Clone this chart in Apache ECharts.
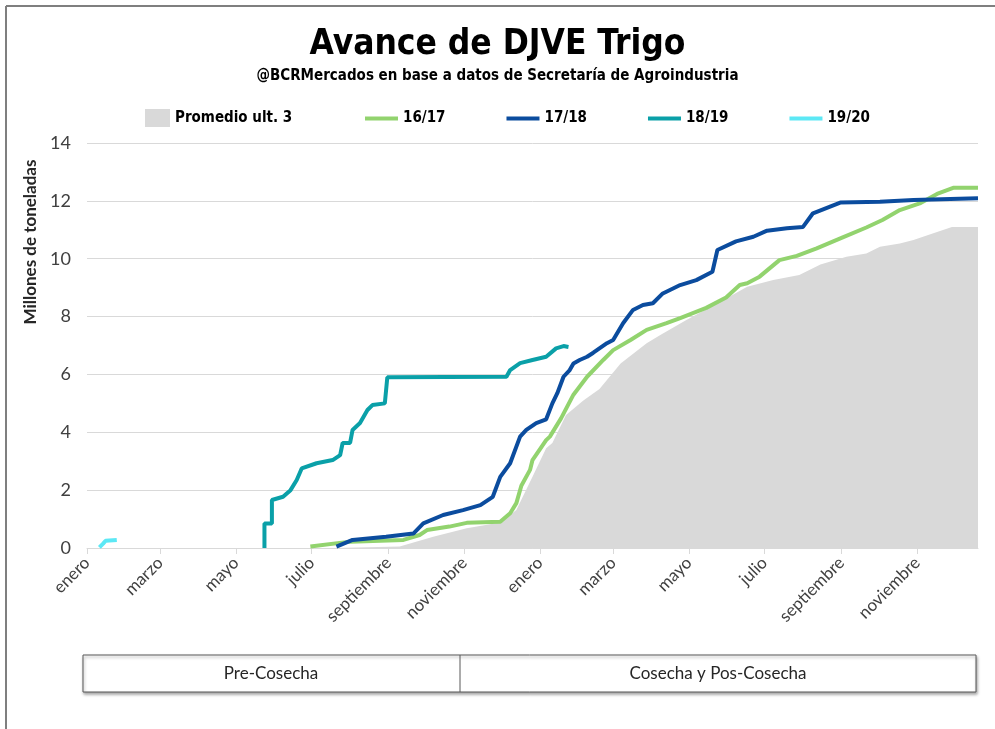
<!DOCTYPE html>
<html>
<head>
<meta charset="utf-8">
<script src="https://cdn.jsdelivr.net/npm/echarts@6/dist/echarts.min.js"></script>
<style>
  html, body { margin: 0; padding: 0; background: #fff; }
  #chart { width: 995px; height: 729px; }
</style>
</head>
<body>
<div id="chart"></div>
<script>
// eje x: dias desde el 1 de enero del primer año
const monthDays = [0, 59, 120, 181, 243, 304, 365, 424, 485, 546, 608, 669];
const monthNames = ["enero", "marzo", "mayo", "julio", "septiembre", "noviembre",
  "enero", "marzo", "mayo", "julio", "septiembre", "noviembre"];

const promDays = [200, 252, 279, 306, 333, 346, 359, 370, 375, 386, 400, 413, 430, 451, 462, 483, 510, 532, 553, 574, 591, 612, 628, 639, 655, 666, 682, 697, 718];
const promVals = [0, 0.05, 0.39, 0.68, 0.88, 1.31, 2.46, 3.45, 3.63, 4.6, 5.1, 5.5, 6.38, 7.08, 7.36, 7.88, 8.5, 9.03, 9.26, 9.44, 9.8, 10.07, 10.18, 10.41, 10.53, 10.65, 10.88, 11.1, 11.1];

const s1617Days = [180, 181, 212, 255, 268, 274, 292, 306, 333, 341, 346, 350, 357, 359, 370, 373, 382, 392, 403, 416, 424, 438, 451, 467, 478, 499, 515, 526, 532, 542, 558, 572, 588, 609, 628, 641, 655, 671, 685, 698, 718];
const s1617Vals = [0.05, 0.1, 0.22, 0.28, 0.45, 0.62, 0.74, 0.87, 0.91, 1.2, 1.55, 2.15, 2.7, 3.04, 3.73, 3.85, 4.48, 5.3, 5.92, 6.5, 6.84, 7.19, 7.54, 7.77, 7.95, 8.3, 8.66, 9.09, 9.15, 9.38, 9.95, 10.1, 10.36, 10.74, 11.08, 11.34, 11.68, 11.91, 12.24, 12.45, 12.45];

const s1718Days = [201, 214, 241, 263, 271, 287, 303, 317, 327, 333, 341, 349, 354, 362, 370, 375, 379, 384, 389, 392, 397, 403, 408, 419, 424, 432, 440, 448, 456, 464, 478, 491, 504, 508, 523, 537, 548, 564, 577, 585, 607, 639, 666, 718];
const s1718Vals = [0.05, 0.28, 0.39, 0.5, 0.85, 1.14, 1.31, 1.48, 1.77, 2.46, 2.93, 3.85, 4.08, 4.32, 4.45, 5.0, 5.35, 5.92, 6.15, 6.38, 6.5, 6.61, 6.75, 7.08, 7.19, 7.77, 8.23, 8.4, 8.46, 8.8, 9.09, 9.26, 9.55, 10.3, 10.6, 10.76, 10.97, 11.05, 11.1, 11.57, 11.94, 11.97, 12.03, 12.09];

const s1819Days = [143, 143, 149, 149, 158, 164, 169, 173, 185, 198, 204, 206, 212, 214, 220, 226, 230, 240, 242, 338, 341, 349, 359, 370, 378, 384, 388];
const s1819Vals = [0, 0.85, 0.85, 1.66, 1.77, 2.0, 2.35, 2.75, 2.93, 3.04, 3.21, 3.63, 3.63, 4.08, 4.32, 4.77, 4.94, 5.0, 5.9, 5.92, 6.15, 6.39, 6.5, 6.61, 6.9, 6.98, 6.95];

const s1920Days = [10, 13, 15, 24];
const s1920Vals = [0.02, 0.15, 0.25, 0.28];

const zip = (d, v) => d.map((x, i) => [x, v[i]]);

const labelFont = "Lato, 'Open Sans', sans-serif";
const boldFont = "'DejaVu Sans Condensed', 'Liberation Sans Narrow', sans-serif";

const myChart = echarts.init(document.getElementById("chart"));

const lineSeries = (name, data, color) => ({
  name: name,
  type: "line",
  data: data,
  showSymbol: false,
  symbol: "none",
  lineStyle: { color: color, width: 4 },
  itemStyle: { color: color },
});

const legendText = { fontFamily: boldFont, fontWeight: "bold", fontSize: 15, color: "#000" };

const option = {
  backgroundColor: "#fff",
  animation: false,
  title: {
    text: "Avance de DJVE Trigo",
    subtext: "@BCRMercados en base a datos de Secretaría de Agroindustria",
    left: "center",
    top: 22,
    itemGap: 7,
    textStyle: {
      fontFamily: boldFont,
      fontWeight: "bold",
      fontSize: 35,
      color: "#000",
    },
    subtextStyle: {
      fontFamily: boldFont,
      fontWeight: "bold",
      fontSize: 15,
      color: "#000",
    },
  },
  legend: [
    {
      data: [{ name: "Promedio ult. 3", icon: "rect" }],
      left: 140,
      top: 104,
      itemWidth: 25,
      itemHeight: 18,
      textStyle: legendText,
    },
    {
      data: ["16/17", "17/18", "18/19", "19/20"].map((n) => ({ name: n, icon: "rect" })),
      left: 360,
      top: 106,
      itemWidth: 33,
      itemHeight: 4,
      itemGap: 61,
      textStyle: legendText,
    },
  ],
  grid: {
    left: 87,
    right: 17,
    top: 143,
    bottom: 181,
  },
  xAxis: {
    type: "value",
    min: 0,
    max: 718,
    axisLine: { show: true, lineStyle: { color: "#d9d9d9" } },
    axisTick: {
      show: true,
      customValues: monthDays,
      length: 6,
      lineStyle: { color: "#d9d9d9" },
    },
    splitLine: { show: false },
    axisLabel: {
      customValues: monthDays,
      rotate: 45,
      margin: 12,
      fontFamily: labelFont,
      fontSize: 17,
      color: "#404040",
      formatter: function (value) {
        const i = monthDays.indexOf(value);
        return i >= 0 ? monthNames[i] : "";
      },
    },
  },
  yAxis: {
    type: "value",
    min: 0,
    max: 14,
    interval: 2,
    axisLine: { show: false },
    axisTick: { show: false },
    splitLine: { lineStyle: { color: "#d9d9d9" } },
    axisLabel: {
      margin: 16,
      fontFamily: labelFont,
      fontSize: 18,
      color: "#404040",
    },
  },
  series: [
    {
      name: "Promedio ult. 3",
      type: "line",
      data: zip(promDays, promVals),
      showSymbol: false,
      symbol: "none",
      lineStyle: { width: 0 },
      itemStyle: { color: "#d9d9d9" },
      areaStyle: { color: "#d9d9d9", opacity: 1 },
    },
    lineSeries("16/17", zip(s1617Days, s1617Vals), "#92d36e"),
    lineSeries("17/18", zip(s1718Days, s1718Vals), "#0b4c9e"),
    lineSeries("18/19", zip(s1819Days, s1819Vals), "#0aa0a8"),
    lineSeries("19/20", zip(s1920Days, s1920Vals), "#5ce8f5"),
  ],
  graphic: [
    // marco
    { type: "line", shape: { x1: 6, y1: 6, x2: 6, y2: 729 }, style: { stroke: "#7f7f7f", lineWidth: 2 } },
    { type: "line", shape: { x1: 6, y1: 6, x2: 995, y2: 6 }, style: { stroke: "#7f7f7f", lineWidth: 2 } },
    {
      type: "text",
      x: 31,
      y: 242,
      rotation: Math.PI / 2,
      style: {
        text: "Millones de toneladas",
        fontFamily: labelFont,
        fontWeight: "bold",
        fontSize: 17,
        fill: "#262626",
        textAlign: "center",
        textVerticalAlign: "middle",
      },
    },
    {
      type: "rect",
      shape: { x: 83, y: 655, width: 893, height: 37 },
      style: {
        fill: "#fff",
        stroke: "#595959",
        lineWidth: 1,
        shadowBlur: 3,
        shadowOffsetX: 1,
        shadowOffsetY: 2,
        shadowColor: "rgba(0,0,0,0.35)",
      },
    },
    { type: "line", shape: { x1: 460, y1: 655, x2: 460, y2: 692 }, style: { stroke: "#595959", lineWidth: 1 } },
    {
      type: "text",
      x: 271,
      y: 674,
      style: {
        text: "Pre-Cosecha",
        fontFamily: labelFont,
        fontSize: 17,
        fill: "#262626",
        textAlign: "center",
        textVerticalAlign: "middle",
      },
    },
    {
      type: "text",
      x: 718,
      y: 674,
      style: {
        text: "Cosecha y Pos-Cosecha",
        fontFamily: labelFont,
        fontSize: 17,
        fill: "#262626",
        textAlign: "center",
        textVerticalAlign: "middle",
      },
    },
  ],
};

myChart.setOption(option);
</script>
</body>
</html>
